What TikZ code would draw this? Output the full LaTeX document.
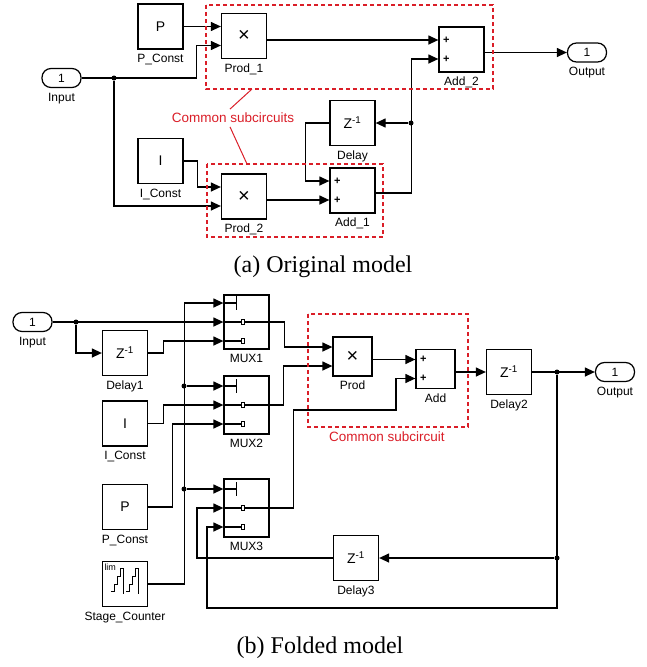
\documentclass[tikz,border=0pt]{standalone}
\usepackage{fontspec}
\setmainfont{Liberation Serif}
\setsansfont{Liberation Sans}
\usepackage{tikz}
\usetikzlibrary{arrows.meta,calc}
\definecolor{subred}{RGB}{218,30,40}

\begin{document}
\begin{tikzpicture}[x=1pt,y=-1pt,line width=1.25pt,>={Triangle[length=10pt,width=9pt]},
  sf/.style={font=\sffamily\fontsize{12}{14}\selectfont},
  blk/.style={draw,minimum width=45pt,minimum height=45pt,inner sep=0pt,sf,font=\sffamily\fontsize{14}{16}\selectfont},
  sm/.style={blk,minimum width=39pt,minimum height=39pt},
  mux/.style={blk,minimum height=58pt},
  term/.style={draw,rounded corners=9pt,minimum width=39pt,minimum height=19pt,inner sep=0pt,sf},
  every label/.style={sf,inner sep=0pt}, label distance=4pt,
  dot/.style={circle,fill,inner sep=0pt,minimum size=5pt},
  plus/.style={anchor=west,inner sep=0pt,font=\sffamily\bfseries\fontsize{11}{11}\selectfont},
  times/.style={font=\sffamily\fontsize{20}{20}\selectfont},
  sub/.style={draw=subred,line width=1.3pt,dash pattern=on 4pt off 3pt},
  subtxt/.style={font=\sffamily\fontsize{13.5}{15}\selectfont,text=subred},
  captxt/.style={font=\fontsize{24}{28}\selectfont}]
\useasboundingbox (0,0) rectangle (646,667);

% (a) original model
\node[term,label=below:Input] (in1) at (61.5,78) {1};
\node[blk,label=below:P\_Const] (pc1) at (160.5,26.5) {P};
\node[blk,label=below:I\_Const] (ic1) at (160.5,161) {I};
\node[blk,times,label=below:Prod\_1] (pr1) at (244,36) {×};
\node[blk,times,label=below:Prod\_2] (pr2) at (244,196.5) {×};
\node[blk,label=below:Delay] (dl) at (352.5,123) {Z\textsuperscript{-1}};
\node[blk,label=below:Add\_1] (ad1) at (352.5,190.5) {};
\node[blk,label=below:Add\_2] (ad2) at (461.5,49.5) {};
\node[term,label=below:Output] (out1) at (587,52.5) {1};
\node[dot] (j1) at (114,78) {};
\node[dot] (j2) at (411,123) {};
\coordinate (a2in) at ([yshift=9.5pt]ad2.west);
\coordinate (a1in) at ([yshift=-9.5pt]ad1.west);

\draw[->] (pc1.east) -- ([yshift=9.5pt]pr1.west);
\draw[->] (in1.east) -- ++(115,0) |- ([yshift=-9.5pt]pr1.west);
\draw[->] (j1) |- ([yshift=-9.5pt]pr2.west);
\draw[->] (ic1.east) -- ++(14,0) |- ([yshift=9.5pt]pr2.west);
\draw[->] (pr1.east |- a2in) -- (a2in);
\draw[->] (pr2.east |- a1in) -- (a1in);
\draw[->] ([yshift=-2.5pt]ad1.east) -- ++(36,0) |- ([yshift=-9.5pt]ad2.west);
\draw[->] (j2) -- (dl.east);
\draw[->] (dl.west) -- ++(-24,0) |- ([yshift=9.5pt]ad1.west);
\draw[->] ([yshift=-3pt]ad2.east) -- (out1.west);

\draw[sub] (206,5) rectangle (493,89);
\draw[sub] (207,164) rectangle (383,237);
\node[subtxt] (cs1) at (233,118) {Common subcircuits};
\coordinate (s1) at (252,89);
\coordinate (s2) at (247,164);
\draw[subred,line width=1pt] ([xshift=-3pt]cs1.north) -- (s1);
\draw[subred,line width=1pt] ([xshift=-3pt]cs1.south) -- (s2);

\node[captxt] (capa) at (323,267) {(a) Original model};

% (b) folded model
\node[term,label=below:Input] (in2) at (32.5,322) {1};
\node[blk,label=below:Delay1] (dl1) at (125,353) {Z\textsuperscript{-1}};
\node[blk,label=below:I\_Const] (ic2) at (125,423.5) {I};
\node[blk,label=below:P\_Const] (pc2) at (125,507) {P};
\node[blk,label=below:Stage\_Counter] (sc) at (125,584) {};
\node[mux,minimum height=54pt,label=below:MUX1] (mx1) at (246.5,322) {};
\node[mux,label=below:MUX2] (mx2) at (246.5,405) {};
\node[mux,label=below:MUX3] (mx3) at (246.5,508) {};
\node[sm,times,label=below:Prod] (pr) at (352.5,356.5) {×};
\node[sm,label=below:Add] (ad) at (435.5,369) {};
\node[blk,label=below:Delay2] (dl2) at (509,372) {Z\textsuperscript{-1}};
\node[term,label=below:Output] (out2) at (615,372) {1};
\node[blk,label=below:Delay3] (dl3) at (356,558) {Z\textsuperscript{-1}};
\node[dot] (j3) at (76,322) {};
\node[dot] (j4) at (184,386) {};
\node[dot] (j5) at (184,489) {};
\node[dot] (j6) at (557,372) {};
\node[dot] (j7) at (557,558) {};
\coordinate (ain) at ([yshift=9.5pt]ad.west);
\coordinate (k1) at (396,410);

% stage counter icon
\node[font=\sffamily\fontsize{9}{9}\selectfont,inner sep=0pt,anchor=north west] (lim) at ([shift={(2,2)}]sc.north west) {lim};
\foreach \dx in {0,15}
  \draw[line width=0.9pt] ([shift={(9+\dx,31)}]sc.north west) -- ++(4,0) -- ++(0,-7) -- ++(3,0) -- ++(0,-8)
    -- ++(3,0) -- ++(0,-8) -- ++(3,0) -- ++(0,25);

% switch ports
\foreach \m in {mx1,mx2,mx3}{
  \draw ([yshift=19pt]\m.west) -- ++(13,0) ++(0,-7) -- ++(0,14);
  \draw (\m.west) -- (\m.east);
  \draw ([yshift=-19pt]\m.west) -- ++(18,0);
  \foreach \s in {0,-19}
    \draw[line width=1pt,fill=white] ([shift={(18,-2.5)},yshift=\s pt]\m.west) rectangle ++(3,5);
}

\draw[->] (in2.east) -- (mx1.west);
\draw[->] (j3) |- (dl1.west);
\draw[->] (dl1.east) -- ++(15,0) |- ([yshift=-19pt]mx1.west);
\draw[->] (sc.east) -- ++(36,0) |- ([yshift=19pt]mx1.west);
\draw[->] (j4) -- ([yshift=19pt]mx2.west);
\draw[->] (j5) -- ([yshift=19pt]mx3.west);
\draw[->] (ic2.east) -- ++(15,0) |- (mx2.west);
\draw[->] (pc2.east) -- ++(24,0) |- ([yshift=-19pt]mx2.west);
\draw[->] (mx1.east) -- ++(15,0) |- ([yshift=9.5pt]pr.west);
\draw[->] (mx2.east) -- ++(14,0) |- ([yshift=-9.5pt]pr.west);
\draw[->] (mx3.east) -- ++(24,0) |- (k1) |- ([yshift=-9.5pt]ad.west);
\draw[->] (pr.east |- ain) -- (ain);
\draw[->] (ad.east |- dl2.west) -- (dl2.west);
\draw[->] (dl2.east) -- (out2.west);
\draw[->] (j7) -- (dl3.east);
\draw[->] (j6) -- ++(0,236) -- ++(-350,0) |- ([yshift=-19pt]mx3.west);
\draw[->] (dl3.west) -- ++(-136,0) |- (mx3.west);

\foreach \b in {ad1,ad2,ad}
  \foreach \s/\n in {9.5/a,-9.5/b}
    \node[plus] (\b-\n) at ([xshift=4pt,yshift=\s pt]\b.west) {+};

\draw[sub] (308,314) rectangle (468,427);
\node[subtxt] (cs2) at (387,437) {Common subcircuit};

\node[captxt] (capb) at (320,648) {(b) Folded model};
\end{tikzpicture}
\end{document}
